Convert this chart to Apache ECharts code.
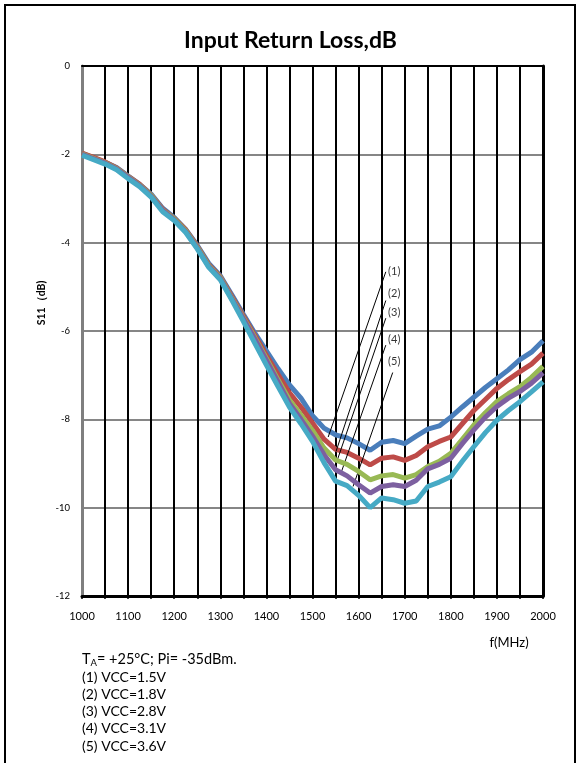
<!DOCTYPE html>
<html>
<head>
<meta charset="utf-8">
<script src="https://cdn.jsdelivr.net/npm/echarts@6/dist/echarts.min.js"></script>
<style>
html,body{margin:0;padding:0;background:#fff;}
#chart{width:581px;height:763px;}
</style>
</head>
<body>
<div id="chart"></div>
<script>
// Frequency (MHz)
var freqs = [1000,1025,1050,1075,1100,1125,1150,1175,1200,1225,1250,1275,1300,1325,1350,1375,1400,1425,1450,1475,1500,1525,1550,1575,1600,1625,1650,1675,1700,1725,1750,1775,1800,1825,1850,1875,1900,1925,1950,1975,2000];
var seriesNames = ['(1) VCC=1.5V','(2) VCC=1.8V','(3) VCC=2.8V','(4) VCC=3.1V','(5) VCC=3.6V'];
var s11_vcc15 = [-1.98,-2.08,-2.18,-2.30,-2.49,-2.68,-2.90,-3.22,-3.43,-3.70,-4.06,-4.47,-4.75,-5.18,-5.62,-6.05,-6.45,-6.85,-7.22,-7.52,-7.92,-8.20,-8.35,-8.42,-8.55,-8.70,-8.52,-8.48,-8.55,-8.38,-8.22,-8.15,-7.95,-7.72,-7.50,-7.28,-7.08,-6.88,-6.65,-6.48,-6.22];
var s11_vcc18 = [-1.97,-2.07,-2.17,-2.31,-2.50,-2.68,-2.92,-3.24,-3.45,-3.71,-4.08,-4.50,-4.77,-5.22,-5.66,-6.10,-6.55,-6.98,-7.40,-7.72,-8.08,-8.45,-8.68,-8.75,-8.88,-9.03,-8.88,-8.85,-8.93,-8.82,-8.62,-8.50,-8.40,-8.10,-7.80,-7.55,-7.30,-7.10,-6.92,-6.75,-6.50];
var s11_vcc28 = [-1.99,-2.09,-2.19,-2.32,-2.51,-2.70,-2.93,-3.26,-3.46,-3.73,-4.10,-4.52,-4.79,-5.25,-5.70,-6.15,-6.62,-7.10,-7.56,-7.90,-8.25,-8.65,-8.92,-9.02,-9.18,-9.37,-9.28,-9.25,-9.33,-9.25,-9.07,-8.95,-8.77,-8.45,-8.13,-7.85,-7.60,-7.42,-7.26,-7.05,-6.80];
var s11_vcc31 = [-2.00,-2.10,-2.20,-2.33,-2.52,-2.71,-2.95,-3.27,-3.48,-3.75,-4.12,-4.54,-4.81,-5.27,-5.72,-6.18,-6.66,-7.15,-7.64,-8.00,-8.38,-8.80,-9.14,-9.28,-9.48,-9.67,-9.52,-9.48,-9.52,-9.38,-9.12,-9.02,-8.88,-8.55,-8.24,-7.95,-7.71,-7.52,-7.37,-7.18,-6.95];
var s11_vcc36 = [-2.02,-2.12,-2.22,-2.35,-2.55,-2.73,-2.97,-3.30,-3.50,-3.77,-4.14,-4.56,-4.84,-5.30,-5.78,-6.28,-6.77,-7.25,-7.72,-8.10,-8.50,-8.98,-9.40,-9.50,-9.72,-10.00,-9.78,-9.82,-9.90,-9.85,-9.52,-9.42,-9.30,-8.95,-8.62,-8.30,-8.02,-7.80,-7.60,-7.38,-7.15];
var seriesColors = ['#4A7EBB','#BE4B48','#98B954','#7D60A0','#46AAC5'];

// Callout labels and leader lines (data coordinates)
var calloutTexts = ['(1)','(2)','(3)','(4)','(5)'];
var calloutLabelPos = [[1664,-4.66],[1664,-5.14],[1664,-5.57],[1664,-6.20],[1664,-6.68]];
var calloutLineTop = [[1659,-4.66],[1659,-5.31],[1659,-5.71],[1659,-6.32],[1674,-6.94]];
var calloutLineEnd = [[1534,-8.40],[1551,-8.73],[1549,-9.07],[1563,-9.18],[1588,-9.52]];

var yTicks = [0,-2,-4,-6,-8,-10,-12];
var notes = ['(1) VCC=1.5V','(2) VCC=1.8V','(3) VCC=2.8V','(4) VCC=3.1V','(5) VCC=3.6V'];

var allData = [s11_vcc15,s11_vcc18,s11_vcc28,s11_vcc31,s11_vcc36];
function pairs(arr){ return freqs.map(function(f,i){ return [f, arr[i]]; }); }

var FONT = 'Lato, "Open Sans", sans-serif';
var series = allData.map(function(arr, k){
  return {
    name: seriesNames[k], type: 'line', data: pairs(arr), symbol: 'none',
    lineStyle: {color: seriesColors[k], width: 5}, itemStyle:{color: seriesColors[k]},
    silent: true, z: 3 + k, animation: false
  };
});
series.push({
  name: 'callouts', type: 'scatter', symbolSize: 0, z: 20, animation: false,
  data: calloutLabelPos.map(function(p, i){ return {value: p, label: {formatter: calloutTexts[i]}}; }),
  label: {show: true, position: 'right', distance: 0, color: '#000', fontSize: 11, fontFamily: FONT},
  markLine: {
    symbol: ['none','none'], silent: true, animation: false,
    lineStyle: {color: '#000', width: 1, type: 'solid'},
    label: {show: false},
    data: calloutLineTop.map(function(p, i){ return [{coord: p}, {coord: calloutLineEnd[i]}]; })
  }
});

var chart = echarts.init(document.getElementById('chart'), null, {renderer: 'canvas'});
var graphics = [
  {type: 'rect', shape: {x: 5, y: 5, width: 570, height: 800}, style: {fill: 'none', stroke: '#000', lineWidth: 2}, z: 100},
  {type: 'text', x: 42, y: 303, rotation: Math.PI/2, style: {text: 'S11（dB)', fontSize: 10.5, fontWeight: 'bold', fontFamily: FONT, fill: '#000', align: 'center', verticalAlign: 'middle'}},
  {type: 'text', x: 509, y: 643, style: {text: 'f(MHz)', fontSize: 13, fontFamily: FONT, fill: '#000', align: 'center', verticalAlign: 'middle'}},
  {type: 'text', x: 82, y: 659, style: {
    text: '{a|T}{s|A}{a|= +25°C; Pi= -35dBm.}', verticalAlign: 'middle', align: 'left',
    rich: {a: {fontSize: 14.5, fontFamily: FONT, fill: '#000'}, s: {fontSize: 9.5, fontFamily: FONT, fill: '#000', padding: [8,0,0,0]}}
  }}
];
notes.forEach(function(t, i){
  graphics.push({type: 'text', x: 82, y: 677 + i * 17.3, style: {text: t, fontSize: 14, fontFamily: FONT, fill: '#000', align: 'left', verticalAlign: 'middle'}});
});

chart.setOption({
  animation: false,
  backgroundColor: '#fff',
  title: {text: 'Input Return Loss,dB', left: 'center', top: 24, textStyle: {fontSize: 23, fontWeight: 'bold', fontFamily: FONT, color: '#000'}},
  grid: {left: 82, top: 66, width: 461, height: 530},
  xAxis: [
    {type: 'value', min: 1000, max: 2000, interval: 50, position: 'bottom',
     axisLine: {show: true, onZero: false, lineStyle: {color: '#000', width: 3}},
     axisTick: {show: true, length: 3, lineStyle: {color: '#000', width: 1.5}},
     axisLabel: {margin: 15, fontSize: 11, fontFamily: FONT, color: '#000', formatter: function(v){ return v % 100 === 0 ? String(v) : ''; }},
     splitLine: {show: true, lineStyle: {color: '#000', width: 2}}},
    {type: 'value', min: 1000, max: 2000, interval: 50, position: 'top',
     axisLine: {show: true, onZero: false, lineStyle: {color: '#000', width: 2}},
     axisTick: {show: false}, axisLabel: {show: false}, splitLine: {show: false}}
  ],
  yAxis: [
    {type: 'value', min: -12, max: 0, interval: 2, position: 'left',
     axisLine: {show: true, onZero: false, lineStyle: {color: '#7f7f7f', width: 3}},
     axisTick: {show: false},
     axisLabel: {margin: 12, fontSize: 9.5, fontFamily: FONT, color: '#000', formatter: function(v){ return yTicks.indexOf(v) >= 0 ? String(v) : ''; }},
     splitLine: {show: true, lineStyle: {color: '#868686', width: 2}}},
    {type: 'value', min: -12, max: 0, interval: 2, position: 'right',
     axisLine: {show: true, onZero: false, lineStyle: {color: '#000', width: 3}},
     axisTick: {show: false}, axisLabel: {show: false}, splitLine: {show: false}}
  ],
  series: series,
  graphic: graphics
});
</script>
</body>
</html>
